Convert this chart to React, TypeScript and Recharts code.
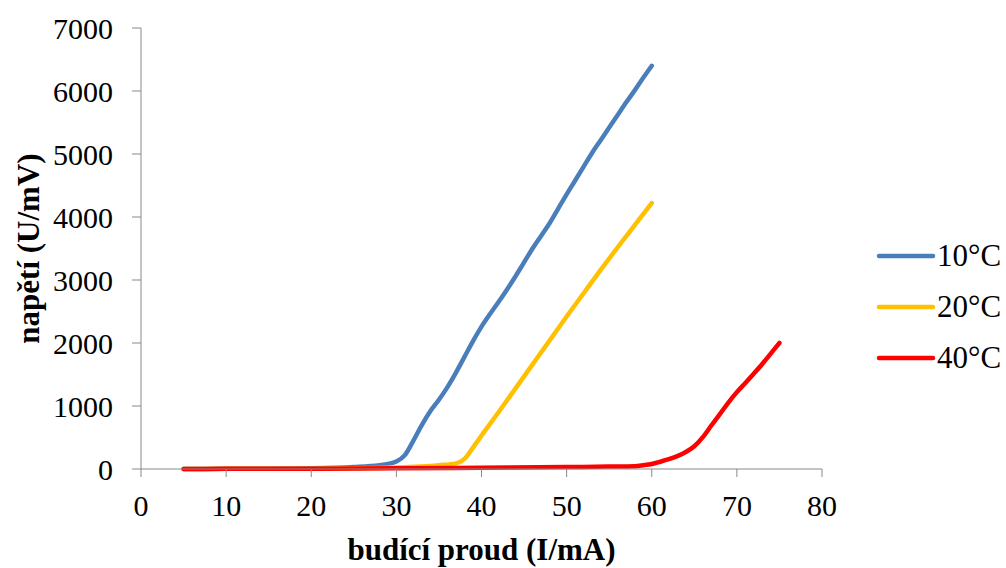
import { LineChart, Line, XAxis, YAxis } from "recharts";

const current10 = [5, 10, 15, 20, 25, 28, 29, 30, 31, 32, 33, 34, 35, 36, 37, 38, 39, 40, 41, 42, 43, 44, 45, 46, 47, 48, 49, 50, 51, 52, 53, 54, 55, 56, 57, 58, 59, 60];
const voltage10 = [0, 2, 5, 10, 30, 60, 80, 120, 220, 450, 700, 920, 1100, 1300, 1530, 1780, 2030, 2260, 2460, 2650, 2850, 3060, 3280, 3500, 3700, 3900, 4130, 4360, 4580, 4800, 5020, 5220, 5420, 5620, 5820, 6010, 6210, 6400];

const current20 = [5, 10, 20, 30, 35, 37, 38, 39, 40, 42, 44, 46, 48, 50, 52, 54, 56, 58, 60];
const voltage20 = [0, 2, 5, 25, 60, 90, 160, 340, 530, 900, 1280, 1660, 2040, 2420, 2790, 3160, 3520, 3870, 4220];

const current40 = [5, 10, 20, 30, 40, 50, 55, 58, 59, 60, 61, 62, 63, 64, 65, 66, 67, 68, 69, 70, 71, 72, 73, 74, 75];
const voltage40 = [0, 2, 5, 10, 20, 30, 38, 45, 60, 80, 115, 155, 205, 270, 360, 505, 690, 870, 1055, 1220, 1365, 1515, 1670, 1835, 2000];

const xTicks = [0, 10, 20, 30, 40, 50, 60, 70, 80];
const yTicks = [0, 1000, 2000, 3000, 4000, 5000, 6000, 7000];

const toPoints = (xs: number[], ys: number[]) => xs.map((x, i) => ({ x, y: ys[i] }));

const series = [
  { name: "10°C", color: "#4a7ebb", data: toPoints(current10, voltage10) },
  { name: "20°C", color: "#ffc000", data: toPoints(current20, voltage20) },
  { name: "40°C", color: "#ff0000", data: toPoints(current40, voltage40) },
];

const FONT = '"Liberation Serif", "Times New Roman", serif';
const AXIS = "#898989";

export default function App() {
  return (
    <div style={{ position: "absolute", left: 0, top: 0, width: 1006, height: 568, background: "#fff", fontFamily: FONT }}>
      <LineChart width={1006} height={568} margin={{ top: 28, right: 184, bottom: 0, left: 0 }}>
        <XAxis
          type="number"
          dataKey="x"
          domain={[0, 80]}
          ticks={xTicks}
          height={99}
          stroke={AXIS}
          tickSize={8}
          tickMargin={18}
          tick={{ fill: "#000", fontSize: 30, fontFamily: FONT }}
          label={{
            value: "budící proud (I/mA)",
            position: "insideBottom",
            offset: 8,
            style: { fill: "#000", fontSize: 31, fontWeight: "bold", fontFamily: FONT },
          }}
        />
        <YAxis
          type="number"
          domain={[0, 7000]}
          ticks={yTicks}
          width={141}
          stroke={AXIS}
          tickSize={9}
          tickMargin={19}
          tick={{ fill: "#000", fontSize: 30, fontFamily: FONT }}
          label={{
            value: "napětí (U/mV)",
            angle: -90,
            position: "center",
            dx: -43,
            style: { fill: "#000", fontSize: 31, fontWeight: "bold", fontFamily: FONT, textAnchor: "middle" },
          }}
        />
        {series.map((s) => (
          <Line
            key={s.name}
            data={s.data}
            dataKey="y"
            name={s.name}
            type="monotone"
            stroke={s.color}
            strokeWidth={4.5}
            strokeLinecap="round"
            dot={false}
            activeDot={false}
            isAnimationActive={false}
          />
        ))}
      </LineChart>
      <div style={{ position: "absolute", left: 876, top: 230 }}>
        {series.map((s) => (
          <div key={s.name} style={{ display: "flex", alignItems: "center", height: 51 }}>
            <svg width={60} height={10}>
              <line x1={3} y1={5} x2={57} y2={5} stroke={s.color} strokeWidth={4.5} strokeLinecap="round" />
            </svg>
            <span style={{ fontSize: 31, lineHeight: "30px", color: "#000", marginLeft: 1 }}>{s.name}</span>
          </div>
        ))}
      </div>
    </div>
  );
}
